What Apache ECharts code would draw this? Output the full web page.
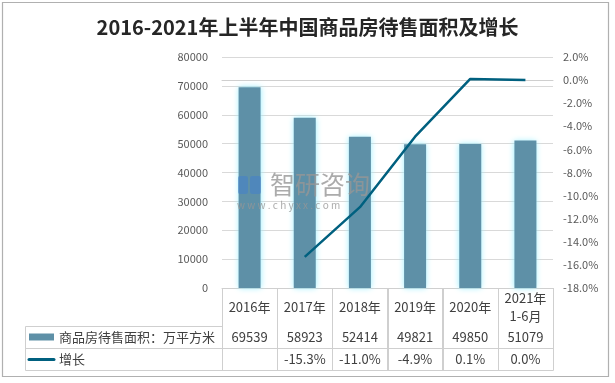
<!DOCTYPE html>
<html><head><meta charset="utf-8">
<script src="https://cdn.jsdelivr.net/npm/echarts@6/dist/echarts.min.js"></script>
<style>html,body{margin:0;padding:0;background:#fff}#c{width:615px;height:383px}</style>
</head><body><div id="c"></div>
<script>
var categories = ['2016年','2017年','2018年','2019年','2020年','2021年\n1-6月'];
var areaValues = [69539, 58923, 52414, 49821, 49850, 51079];
var growthValues = [null, -15.3, -11.0, -4.9, 0.1, 0.0];
var areaLabels = ['69539','58923','52414','49821','49850','51079'];
var growthLabels = ['','-15.3%','-11.0%','-4.9%','0.1%','0.0%'];
var seriesNames = ['商品房待售面积：万平方米','增长'];

var FONT = '"Noto Sans CJK SC", "Noto Sans", sans-serif';
var GRID = '#cfcfcf';
var TXT = '#404040';
var BAR = '#5e90a7';
var LINE = '#00607f';
var chart = echarts.init(document.getElementById('c'));
var option = {
  backgroundColor: '#fff',
  animation: false,
  textStyle: {fontFamily: FONT},
  title: {
    text: '2016-2021年上半年中国商品房待售面积及增长',
    left: 'center', top: 12,
    textStyle: {fontSize: 20, fontWeight: 'bold', color: '#262626', fontFamily: FONT}
  },
  grid: {left: 222, right: 62, top: 57, bottom: 95},
  xAxis: [
    {type: 'category', data: categories, position: 'bottom',
     axisLine: {show: true, lineStyle: {color: GRID}},
     axisTick: {show: true, length: 82, interval: 0, alignWithLabel: false, lineStyle: {color: GRID, width: 1}},
     axisLabel: {interval: 0, margin: 19, verticalAlign: 'middle', fontSize: 13, lineHeight: 18, color: TXT}},
    {type: 'category', data: categories, position: 'bottom', offset: 38,
     axisLine: {show: true, lineStyle: {color: GRID}}, axisTick: {show: false},
     axisLabel: {interval: 0, margin: 11, verticalAlign: 'middle', fontSize: 13, color: TXT,
       formatter: function (v, i) { return areaLabels[i]; }}},
    {type: 'category', data: categories, position: 'bottom', offset: 60,
     axisLine: {show: true, lineStyle: {color: GRID}}, axisTick: {show: false},
     axisLabel: {interval: 0, margin: 11, verticalAlign: 'middle', fontSize: 13, color: TXT,
       formatter: function (v, i) { return growthLabels[i]; }}},
    {type: 'category', data: categories, position: 'bottom', offset: 82,
     axisLine: {show: true, lineStyle: {color: GRID}}, axisTick: {show: false},
     axisLabel: {show: false}}
  ],
  yAxis: [
    {type: 'value', min: 0, max: 80000, interval: 10000,
     axisLine: {show: false}, axisTick: {show: false},
     splitLine: {lineStyle: {color: '#d9d9d9'}},
     axisLabel: {fontSize: 11, color: '#595959', margin: 14, formatter: function (v) { return String(v); }}},
    {type: 'value', min: -18, max: 2, interval: 2, position: 'right',
     axisLine: {show: false}, axisTick: {show: false}, splitLine: {show: false},
     axisLabel: {fontSize: 11, color: '#595959', margin: 10,
       formatter: function (v) { return v.toFixed(1) + '%'; }}}
  ],
  series: [
    {name: seriesNames[0], type: 'bar', data: areaValues, barWidth: 22, xAxisIndex: 0, yAxisIndex: 0,
     itemStyle: {color: BAR, shadowBlur: 6, shadowColor: '#9befff'}},
    {name: seriesNames[1], type: 'line', data: growthValues, xAxisIndex: 0, yAxisIndex: 1,
     symbol: 'none', connectNulls: false,
     lineStyle: {color: LINE, width: 2.5}, itemStyle: {color: LINE}}
  ]
};
chart.setOption(option);

// table grid lines derived from the category axis band boundaries
var rect = chart.getModel().getComponent('grid', 0).coordinateSystem.getRect();
var x0 = Math.round(rect.x) + 0.5, yTop = Math.round(rect.y + rect.height) + 0.5;
var band = rect.width / categories.length;
var g = [
  {type: 'rect', shape: {x: 2.5, y: 2.5, width: 606, height: 374}, style: {fill: 'none', stroke: '#b0b0b0', lineWidth: 1.2}, silent: true}
];
for (var i = 0; i <= categories.length; i++) {
  var xx = Math.round(rect.x + band * i) + 0.5;
  g.push({type: 'line', z: 50, shape: {x1: xx, y1: yTop, x2: xx, y2: yTop + 82}, style: {stroke: GRID, lineWidth: 1, fill: null}});
}
[38, 60, 82].forEach(function (d) {
  g.push({type: 'line', shape: {x1: 25.5, y1: yTop + d, x2: x0, y2: yTop + d}, style: {stroke: GRID, lineWidth: 1}});
});
g.push({type: 'line', shape: {x1: 25.5, y1: yTop + 38, x2: 25.5, y2: yTop + 82}, style: {stroke: GRID, lineWidth: 1}});
// legend swatches inside the table
g.push({type: 'rect', shape: {x: 29, y: yTop + 45, width: 25, height: 7}, style: {fill: BAR}});
g.push({type: 'text', x: 59, y: yTop + 49, style: {text: seriesNames[0], fill: TXT, font: '13px ' + FONT, verticalAlign: 'middle'}});
g.push({type: 'line', shape: {x1: 29, y1: yTop + 71, x2: 54, y2: yTop + 71}, style: {stroke: LINE, lineWidth: 3, lineCap: 'round'}});
g.push({type: 'text', x: 59, y: yTop + 71, style: {text: seriesNames[1], fill: TXT, font: '13px ' + FONT, verticalAlign: 'middle'}});
// watermark (drawn above the bars)
g.push({type: 'rect', z: 100, zlevel: 1, shape: {x: 238, y: 176, width: 10, height: 18, r: 2}, style: {fill: 'rgba(70,130,200,0.6)'}});
g.push({type: 'rect', z: 100, zlevel: 1, shape: {x: 250, y: 176, width: 11, height: 18, r: 2}, style: {fill: 'rgba(70,130,200,0.6)'}});
g.push({type: 'text', z: 100, zlevel: 1, x: 270, y: 184, style: {text: '智研咨询', fill: 'rgba(150,150,150,0.8)', font: '25px ' + FONT, verticalAlign: 'middle'}});
g.push({type: 'text', z: 100, zlevel: 1, x: 237, y: 205, style: {text: 'w w w . c h y x x . c o m', fill: 'rgba(150,150,150,0.8)', font: '10px ' + FONT, verticalAlign: 'middle'}});
chart.setOption({graphic: g});
</script></body></html>
